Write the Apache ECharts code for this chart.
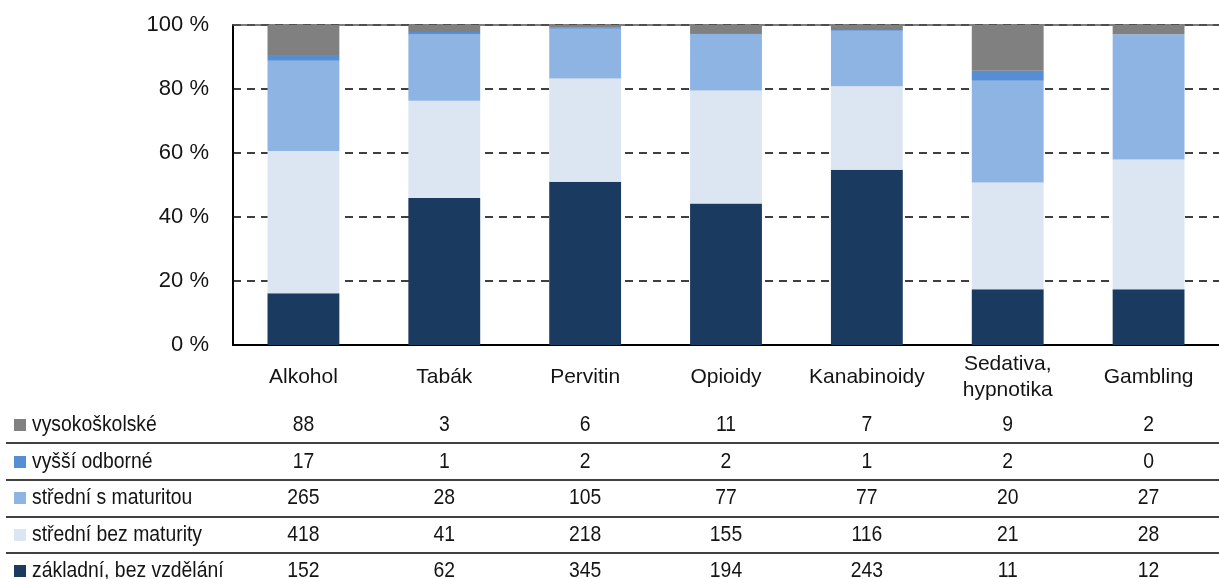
<!DOCTYPE html>
<html>
<head>
<meta charset="utf-8">
<script src="https://cdn.jsdelivr.net/npm/echarts@6/dist/echarts.min.js"></script>
<style>
  html, body { margin: 0; padding: 0; background: #fff; }
  #chart { width: 1219px; height: 579px; }
</style>
</head>
<body>
<div id="chart"></div>
<script>
// data
var categories = ['Alkohol', 'Tabák', 'Pervitin', 'Opioidy', 'Kanabinoidy', 'Sedativa,\nhypnotika', 'Gambling'];
var zakladni = [152, 62, 345, 194, 243, 11, 12];
var stredniBezMaturity = [418, 41, 218, 155, 116, 21, 28];
var stredniSMaturitou = [265, 28, 105, 77, 77, 20, 27];
var vyssiOdborne = [17, 1, 2, 2, 1, 2, 0];
var vysokoskolske = [88, 3, 6, 11, 7, 9, 2];
var seriesNames = ['základní, bez vzdělání', 'střední bez maturity', 'střední s maturitou', 'vyšší odborné', 'vysokoškolské'];
var seriesColors = ['#1b3a5f', '#dce6f2', '#8eb4e3', '#558ed5', '#808080'];

var font = "'Liberation Sans', Arial, sans-serif";
var textColor = '#141414';
var allRows = [zakladni, stredniBezMaturity, stredniSMaturitou, vyssiOdborne, vysokoskolske];

var totals = categories.map(function (c, i) {
  var s = 0;
  allRows.forEach(function (r) { s += r[i]; });
  return s;
});

function toPct(arr) {
  return arr.map(function (v, i) { return v / totals[i] * 100; });
}

var chart = echarts.init(document.getElementById('chart'));

var series = allRows.map(function (arr, k) {
  return {
    name: seriesNames[k],
    type: 'bar',
    stack: 'all',
    barWidth: '51%',
    itemStyle: { color: seriesColors[k] },
    data: toPct(arr)
  };
});

var option = {
  animation: false,
  grid: { left: 233, right: 0, top: 25, bottom: 234 },
  xAxis: [{
    type: 'category',
    data: categories,
    axisLine: { lineStyle: { color: '#000', width: 2 } },
    axisTick: { show: false },
    axisLabel: {
      color: textColor, fontFamily: font, fontSize: 21, margin: 32,
      verticalAlign: 'middle', lineHeight: 26, interval: 0
    }
  }, {
    type: 'category',
    position: 'top',
    data: categories,
    axisLine: { lineStyle: { color: '#555', width: 1.5 } },
    axisTick: { show: false },
    axisLabel: { show: false }
  }],
  yAxis: {
    type: 'value',
    min: 0, max: 100, interval: 20,
    axisLine: { show: true, lineStyle: { color: '#000', width: 2 } },
    axisTick: { show: false },
    axisLabel: {
      color: textColor, fontFamily: font, fontSize: 22, margin: 24,
      formatter: function (v) { return v + ' %'; }
    },
    splitLine: { lineStyle: { color: '#000', type: [8, 6], width: 1.5 } }
  },
  series: series
};
chart.setOption(option);

// table below the chart
var tableRows = [vysokoskolske, vyssiOdborne, stredniSMaturitou, stredniBezMaturity, zakladni];
var tableNames = ['vysokoškolské', 'vyšší odborné', 'střední s maturitou', 'střední bez maturity', 'základní, bez vzdělání'];
var tableColors = ['#808080', '#558ed5', '#8eb4e3', '#dce6f2', '#1b3a5f'];
var rowY = [425, 462, 498, 535, 571];
var lineY = [443, 480, 517, 553];
var narrow = 0.88;

var graphics = [];
tableRows.forEach(function (row, r) {
  graphics.push({
    type: 'rect', shape: { x: 14, y: rowY[r] - 6, width: 12, height: 12 },
    style: { fill: tableColors[r] }
  });
  graphics.push({
    type: 'text', x: 32, y: rowY[r], scaleX: narrow,
    style: { text: tableNames[r], font: '22px ' + font, fill: textColor, verticalAlign: 'middle' }
  });
  row.forEach(function (v, i) {
    var px = chart.convertToPixel({ xAxisIndex: 0 }, i);
    graphics.push({
      type: 'text', x: px, y: rowY[r], scaleX: narrow,
      style: { text: String(v), font: '22px ' + font, fill: textColor, align: 'center', verticalAlign: 'middle' }
    });
  });
});
lineY.forEach(function (y) {
  graphics.push({
    type: 'line', shape: { x1: 6, y1: y, x2: 1219, y2: y },
    style: { stroke: '#404040', lineWidth: 2 }
  });
});
chart.setOption({ graphic: graphics });
window.onresize = chart.resize;
</script>
</body>
</html>
